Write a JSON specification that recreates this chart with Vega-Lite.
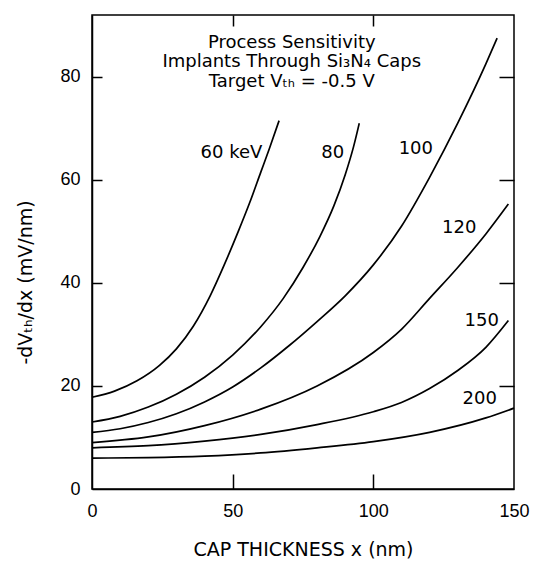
{
  "$schema": "https://vega.github.io/schema/vega-lite/v6.json",
  "width": 422,
  "height": 474,
  "autosize": {"type": "none"},
  "padding": {"left": 92, "top": 15, "right": 23, "bottom": 82},
  "background": "white",
  "config": {
    "view": {"stroke": "black", "strokeWidth": 1.5},
    "font": "Liberation Sans",
    "axis": {
      "grid": false,
      "domainColor": "black",
      "domainWidth": 1.5,
      "tickColor": "black",
      "tickWidth": 1.5,
      "labelColor": "black",
      "labelFont": "Liberation Sans",
      "labelFontSize": 18,
      "titleColor": "black",
      "titleFont": "DejaVu Sans",
      "titleFontSize": 19,
      "titleFontWeight": "normal",
      "labelFlush": false,
      "labelOverlap": false
    }
  },
  "datasets": {
    "curves": [
      {"series": "60", "x": 0, "y": 17.8}, {"series": "60", "x": 8, "y": 19}, {"series": "60", "x": 16, "y": 21}, {"series": "60", "x": 24, "y": 24}, {"series": "60", "x": 30, "y": 27.2}, {"series": "60", "x": 36, "y": 31.6}, {"series": "60", "x": 42, "y": 37.5}, {"series": "60", "x": 47, "y": 43.5}, {"series": "60", "x": 52, "y": 50}, {"series": "60", "x": 56, "y": 55.5}, {"series": "60", "x": 60, "y": 61.5}, {"series": "60", "x": 63, "y": 66}, {"series": "60", "x": 66.5, "y": 71.5},
      {"series": "80", "x": 0, "y": 13}, {"series": "80", "x": 10, "y": 14.1}, {"series": "80", "x": 20, "y": 15.9}, {"series": "80", "x": 30, "y": 18.4}, {"series": "80", "x": 40, "y": 21.7}, {"series": "80", "x": 50, "y": 26}, {"series": "80", "x": 60, "y": 31.5}, {"series": "80", "x": 68, "y": 37}, {"series": "80", "x": 75, "y": 43}, {"series": "80", "x": 81, "y": 49}, {"series": "80", "x": 86, "y": 55}, {"series": "80", "x": 90, "y": 61}, {"series": "80", "x": 93, "y": 66.5}, {"series": "80", "x": 95, "y": 71},
      {"series": "100", "x": 0, "y": 11}, {"series": "100", "x": 10, "y": 11.7}, {"series": "100", "x": 20, "y": 12.9}, {"series": "100", "x": 30, "y": 14.6}, {"series": "100", "x": 40, "y": 16.9}, {"series": "100", "x": 50, "y": 19.8}, {"series": "100", "x": 60, "y": 23.5}, {"series": "100", "x": 70, "y": 27.8}, {"series": "100", "x": 80, "y": 32.5}, {"series": "100", "x": 90, "y": 37.5}, {"series": "100", "x": 100, "y": 43.5}, {"series": "100", "x": 110, "y": 51}, {"series": "100", "x": 120, "y": 60.5}, {"series": "100", "x": 130, "y": 71}, {"series": "100", "x": 140, "y": 82.5}, {"series": "100", "x": 144, "y": 87.5},
      {"series": "120", "x": 0, "y": 9}, {"series": "120", "x": 20, "y": 10.1}, {"series": "120", "x": 40, "y": 12.3}, {"series": "120", "x": 60, "y": 15.5}, {"series": "120", "x": 80, "y": 20}, {"series": "120", "x": 100, "y": 26.5}, {"series": "120", "x": 110, "y": 31}, {"series": "120", "x": 120, "y": 37}, {"series": "120", "x": 130, "y": 43}, {"series": "120", "x": 140, "y": 49.5}, {"series": "120", "x": 148, "y": 55.3},
      {"series": "150", "x": 0, "y": 8}, {"series": "150", "x": 20, "y": 8.4}, {"series": "150", "x": 40, "y": 9.3}, {"series": "150", "x": 60, "y": 10.6}, {"series": "150", "x": 80, "y": 12.5}, {"series": "150", "x": 100, "y": 15}, {"series": "150", "x": 110, "y": 16.8}, {"series": "150", "x": 120, "y": 19.5}, {"series": "150", "x": 130, "y": 23}, {"series": "150", "x": 140, "y": 27.5}, {"series": "150", "x": 148, "y": 32.7},
      {"series": "200", "x": 0, "y": 6}, {"series": "200", "x": 20, "y": 6.1}, {"series": "200", "x": 40, "y": 6.4}, {"series": "200", "x": 60, "y": 7}, {"series": "200", "x": 80, "y": 8}, {"series": "200", "x": 100, "y": 9.2}, {"series": "200", "x": 120, "y": 11}, {"series": "200", "x": 140, "y": 13.8}, {"series": "200", "x": 150, "y": 15.7}
    ],
    "curveLabels": [
      {"x": 38.6, "y": 65.3, "text": "60 keV"},
      {"x": 81.5, "y": 65.3, "text": "80"},
      {"x": 109, "y": 66, "text": "100"},
      {"x": 124.4, "y": 50.7, "text": "120"},
      {"x": 132.4, "y": 32.7, "text": "150"},
      {"x": 131.7, "y": 17.5, "text": "200"}
    ],
    "heading": [
      {"x": 71, "y": 86.6, "text": "Process Sensitivity"},
      {"x": 71, "y": 82.9, "text": "Implants Through Si₃N₄ Caps"},
      {"x": 71, "y": 79.0, "text": "Target Vₜₕ = -0.5 V"}
    ]
  },
  "layer": [
    {
      "data": {"name": "curves"},
      "mark": {"type": "line", "color": "black", "strokeWidth": 1.7, "interpolate": "monotone"},
      "encoding": {
        "x": {"field": "x", "type": "quantitative", "scale": {"domain": [0, 150], "nice": false},
          "axis": {"orient": "bottom", "values": [0, 50, 100, 150], "title": "CAP THICKNESS x (nm)", "ticks": false, "tickSize": 0, "labelPadding": 13, "titlePadding": 20}},
        "y": {"field": "y", "type": "quantitative", "scale": {"domain": [0, 92], "nice": false},
          "axis": {"orient": "left", "values": [0, 20, 40, 60, 80], "title": "-dVₜₕ/dx (mV/nm)", "ticks": false, "tickSize": 0, "labelPadding": 12, "titlePadding": 24, "titleY": 267}},
        "detail": {"field": "series"}
      }
    },
    {
      "data": {"name": "curveLabels"},
      "mark": {"type": "text", "align": "left", "baseline": "middle", "font": "DejaVu Sans", "fontSize": 18, "color": "black"},
      "encoding": {
        "x": {"field": "x", "type": "quantitative",
          "axis": {"orient": "top", "values": [50, 100], "labels": false, "domain": false, "title": null, "tickSize": 11, "offset": -11}},
        "y": {"field": "y", "type": "quantitative",
          "axis": {"orient": "right", "values": [20, 40, 60, 80], "labels": false, "domain": false, "title": null, "tickSize": 15, "offset": -15}},
        "text": {"field": "text"}
      }
    },
    {
      "data": {"name": "heading"},
      "mark": {"type": "text", "align": "center", "baseline": "middle", "font": "DejaVu Sans", "fontSize": 18, "letterSpacing": 0.4, "color": "black"},
      "encoding": {
        "x": {"field": "x", "type": "quantitative",
          "axis": {"orient": "bottom", "values": [50, 100], "labels": false, "domain": false, "title": null, "tickSize": 15, "offset": -15}},
        "y": {"field": "y", "type": "quantitative",
          "axis": {"orient": "left", "values": [20, 40, 60, 80], "labels": false, "domain": false, "title": null, "tickSize": 10, "offset": -10}},
        "text": {"field": "text"}
      }
    }
  ],
  "resolve": {"axis": {"x": "independent", "y": "independent"}}
}
